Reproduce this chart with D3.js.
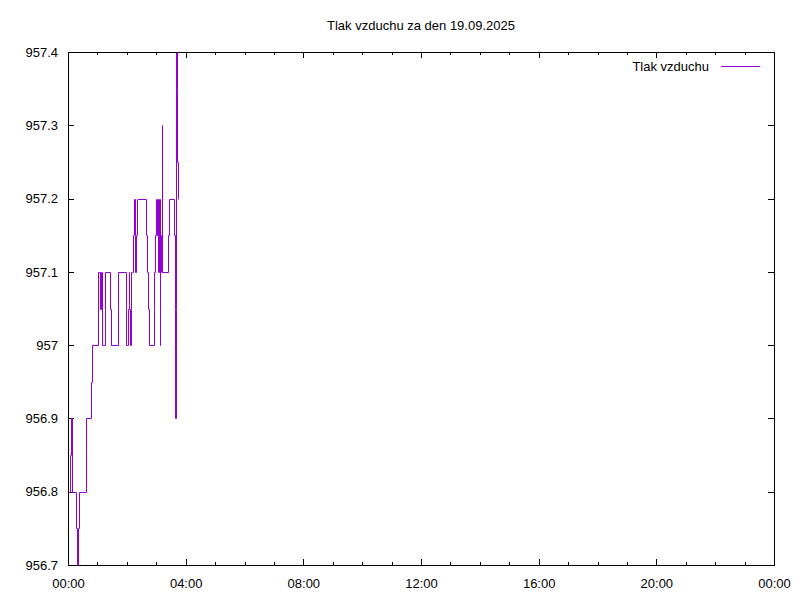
<!DOCTYPE html>
<html>
<head>
<meta charset="utf-8">
<script src="https://cdn.jsdelivr.net/npm/d3@7"></script>
<style>
  html, body { margin: 0; padding: 0; background: #fff; }
  svg { display: block; }
  text { font-family: "Liberation Sans", Arial, sans-serif; font-size: 13px; fill: #000; }
</style>
</head>
<body>
<svg id="chart" width="800" height="600"></svg>
<script>
// ---- data (minutes since midnight, pressure hPa) ----
const titleText = "Tlak vzduchu za den 19.09.2025";
const seriesName = "Tlak vzduchu";
const times = [0, 5, 7, 9, 17, 19, 21, 23, 36, 37, 46, 48,
  62, 65, 67, 69, 75, 76, 86, 88, 101, 102, 118, 119, 123, 124, 125, 126, 128, 129, 131,
  133, 135, 136, 137, 139, 140, 142, 160, 162, 163, 165, 175, 176, 178, 180, 181, 183, 184,
  186, 187, 188, 189, 191, 192, 204, 205, 217, 218, 219, 220, 221, 222, 223, 224, 225];
const values = [956.8, 956.85, 956.9, 956.8, 956.75, 956.7, 956.75, 956.8, 956.85, 956.9, 956.95, 957.0,
  957.1, 957.05, 957.1, 957.0, 957.05, 957.1, 957.05, 957.0, 957.05, 957.1, 957.05, 957.0, 957.05, 957.1, 957.05, 957.0, 957.05, 957.1, 957.1,
  957.15, 957.2, 957.15, 957.1, 957.15, 957.2, 957.2, 957.15, 957.1, 957.05, 957.0, 957.05, 957.1, 957.15, 957.2, 957.15, 957.2, 957.1,
  957.2, 957.0, 957.1, 957.15, 957.3, 957.1, 957.15, 957.2, 957.15, 957.05, 956.9, 957.05, 957.4, 957.35, 957.25, 957.2, 957.2];
const yTicks = [956.7, 956.8, 956.9, 957.0, 957.1, 957.2, 957.3, 957.4];
const yTickLabels = ["956.7", "956.8", "956.9", "957", "957.1", "957.2", "957.3", "957.4"];
const xTicks = [0, 240, 480, 720, 960, 1200, 1440];
const xTickLabels = ["00:00", "04:00", "08:00", "12:00", "16:00", "20:00", "00:00"];
const xMinorTicks = d3.range(60, 1440, 60).filter(m => m % 240 !== 0);

// ---- layout ----
const L = 68, R = 774, T = 52, B = 565;
const color = "#9400d3";
const svg = d3.select("#chart");

const x = d3.scaleLinear().domain([0, 1440]).range([L, R]);
const y = d3.scaleLinear().domain([956.7, 957.4]).range([B, T]);

const px = v => Math.round(v) + 0.5;

// title
svg.append("text").attr("x", (L + R) / 2).attr("y", 30)
  .attr("text-anchor", "middle").text(titleText);

// axes via d3 axis generators (ticks inward)
const majorLen = 6, minorLen = 3;
function styleAxis(g) {
  g.select(".domain").remove();
  g.selectAll(".tick line").attr("stroke", "#000").attr("shape-rendering", "crispEdges");
  g.selectAll("text").attr("font-family", "Liberation Sans, Arial, sans-serif").attr("font-size", 13).attr("fill", "#000");
}
// left
svg.append("g").attr("transform", `translate(${L},0)`)
  .call(d3.axisLeft(y).tickValues(yTicks).tickFormat((d, i) => yTickLabels[i]).tickSizeInner(-majorLen).tickSizeOuter(0).tickPadding(10))
  .call(styleAxis);
// right (mirror)
svg.append("g").attr("transform", `translate(${R},0)`)
  .call(d3.axisRight(y).tickValues(yTicks).tickFormat("").tickSizeInner(-majorLen).tickSizeOuter(0))
  .call(styleAxis);
// bottom
svg.append("g").attr("transform", `translate(0,${B})`)
  .call(d3.axisBottom(x).tickValues(xTicks).tickFormat((d, i) => xTickLabels[i]).tickSizeInner(-majorLen).tickSizeOuter(0).tickPadding(14))
  .call(styleAxis);
svg.append("g").attr("transform", `translate(0,${B})`)
  .call(d3.axisBottom(x).tickValues(xMinorTicks).tickFormat("").tickSizeInner(-minorLen).tickSizeOuter(0))
  .call(styleAxis);
// top (mirror)
svg.append("g").attr("transform", `translate(0,${T})`)
  .call(d3.axisTop(x).tickValues(xTicks).tickFormat("").tickSizeInner(-majorLen).tickSizeOuter(0))
  .call(styleAxis);
svg.append("g").attr("transform", `translate(0,${T})`)
  .call(d3.axisTop(x).tickValues(xMinorTicks).tickFormat("").tickSizeInner(-minorLen).tickSizeOuter(0))
  .call(styleAxis);

// data line (steps)
const data = times.map((t, i) => ({ t, v: values[i] }));
svg.append("path").datum(data)
  .attr("fill", "none").attr("stroke", color).attr("stroke-width", 1)
  .attr("d", d3.line().x(d => px(x(d.t))).y(d => px(y(d.v))).curve(d3.curveStepAfter));

// border
svg.append("rect").attr("x", L + 0.5).attr("y", T + 0.5)
  .attr("width", R - L).attr("height", B - T)
  .attr("fill", "none").attr("stroke", "#000").attr("stroke-width", 1)
  .attr("shape-rendering", "crispEdges");

// legend
svg.append("text").attr("x", 709).attr("y", 71).attr("text-anchor", "end").text(seriesName);
svg.append("line").attr("x1", 721).attr("x2", 760).attr("y1", 66.5).attr("y2", 66.5)
  .attr("stroke", color).attr("stroke-width", 1);
</script>
</body>
</html>
